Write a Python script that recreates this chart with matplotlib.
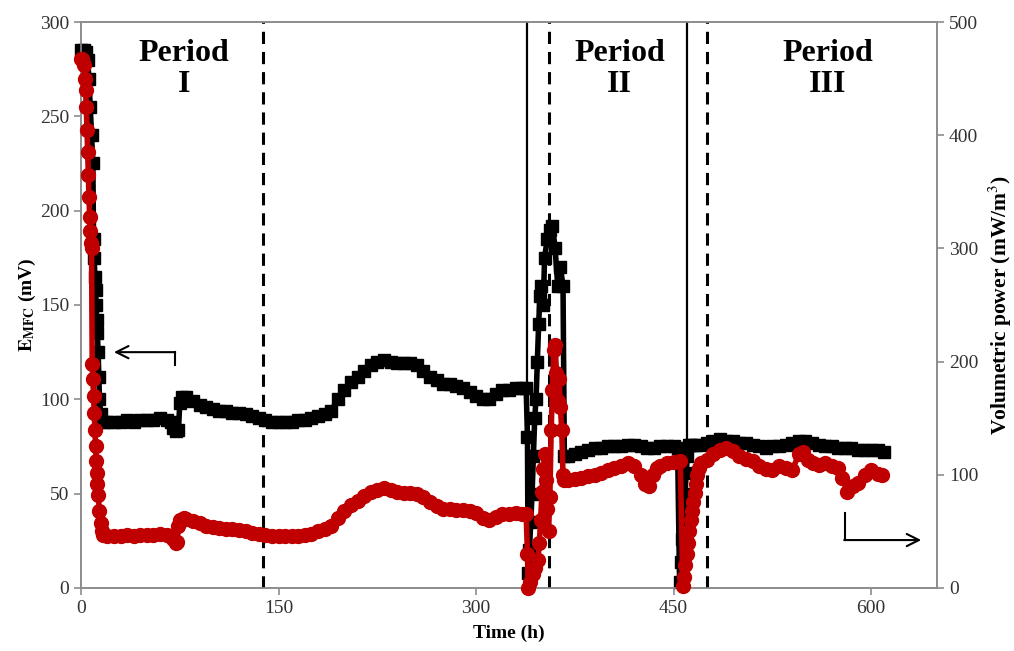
import matplotlib.pyplot as plt

# E_MFC (mV), black squares, left axis
t_e = [0, 2, 4, 5, 6, 7, 8, 9, 9.5, 10, 10.5, 11, 11.5, 12, 12.5, 13, 13.5, 14, 15, 17,
       20, 25, 30, 35, 40, 45, 50, 55, 60, 65, 68, 70, 72, 74, 75, 77, 80, 85, 90, 95,
       100, 105, 110, 115, 120, 125, 130, 135, 140, 145, 150, 155, 160, 165, 170, 175,
       180, 185, 190, 195, 200, 205, 210, 215, 220, 225, 230, 235, 240, 245, 250, 255,
       260, 265, 270, 275, 280, 285, 290, 295, 300, 305, 310, 315, 320, 325, 330, 335,
       338, 339, 339.5, 340.5, 341.5, 342.5, 343.5, 344.5, 345.5, 346.5, 347.5, 348.5,
       349.5, 351, 352, 354, 356, 358, 360, 362, 364, 366,
       367, 370, 375, 380, 385, 390, 395, 400, 405, 410, 415, 420, 425, 430, 435, 440,
       445, 450, 453, 454.5, 455.5, 456.5, 457.5, 458.5, 459.5, 460.5, 461.5, 463, 466,
       470, 475, 480, 485, 490, 495, 500, 505, 510, 515, 520, 525, 530, 535, 540, 545,
       550, 555, 560, 565, 570, 575, 580, 585, 590, 595, 600, 605, 610]
e_mfc = [285, 285, 284, 280, 270, 255, 240, 225, 185, 175, 165, 158, 150, 142, 135, 125, 112, 100, 92, 88,
         88, 88, 88, 89, 88, 89, 89, 89, 90, 89, 88, 85, 83, 84, 98, 101, 101, 99, 97, 96,
         95, 94, 94, 93, 93, 92, 91, 90, 89, 88, 88, 88, 88, 89, 89, 90,
         91, 92, 94, 100, 105, 109, 112, 115, 118, 120, 121, 120, 119, 119, 119, 118,
         115, 112, 110, 108, 108, 107, 106, 104, 102, 100, 100, 103, 105, 105, 106, 106,
         106, 80, 8, 20, 35, 50, 70, 90, 100, 120, 140, 155,
         160, 150, 175, 185, 190, 192, 180, 160, 170, 160,
         70, 70, 71, 72, 73, 74, 74, 75, 75, 75, 76, 76, 75, 74, 74, 75,
         75, 75, 74, 3, 14, 26, 38, 50, 61, 70, 76, 76, 76,
         76, 77, 78, 79, 78, 78, 77, 77, 76, 75, 74, 75, 75, 76, 77, 78,
         78, 77, 76, 75, 75, 74, 74, 74, 73, 73, 73, 73, 72]

# Volumetric power (mW/m3), red circles, right axis
t_p = [0, 1, 2, 3, 3.5, 4, 4.5, 5, 5.5, 6, 6.5, 7, 7.5, 8, 8.5, 9, 9.5,
       10, 10.5, 11, 11.5, 12, 12.5, 13, 14, 15, 16, 17,
       20, 25, 30, 35, 40, 45, 50, 55, 60, 65, 68, 70, 72, 73, 74, 75, 78, 80, 85, 90, 95,
       100, 105, 110, 115, 120, 125, 130, 135, 140, 145, 150, 155, 160, 165, 170, 175,
       180, 185, 190, 195, 200, 205, 210, 215, 220, 225, 230, 235, 240, 245, 250, 255,
       260, 265, 270, 275, 280, 285, 290, 295, 300, 305, 310, 315, 320, 325, 330, 335,
       338, 339, 339.5, 341, 343, 345, 347, 348, 349, 350, 351, 352, 353, 354, 355, 356,
       357, 358, 359, 360, 361, 362, 363, 364, 365, 366,
       367, 370, 375, 380, 385, 390, 395, 400, 405, 410, 415, 420, 425, 428, 431, 434,
       437, 440, 445, 450, 455, 457, 458, 459, 460, 461, 462, 463, 464, 465, 466, 467,
       468, 469, 471, 475, 480, 485, 490, 495, 500, 505, 510, 515, 520, 525, 530, 535,
       540, 545, 548, 552, 556, 560, 565, 570, 575, 578, 582, 586, 590, 595, 600, 605, 608]
power = [467, 467, 462, 450, 440, 425, 405, 385, 365, 345, 328, 315, 305, 300, 198, 185, 170,
         155, 140, 125, 112, 102, 92, 82, 68, 57, 50, 47,
         46, 46, 46, 47, 46, 47, 47, 47, 48, 47, 46, 43, 40, 41, 55, 60, 62, 61, 59, 57, 55,
         54, 53, 52, 52, 51, 50, 49, 48, 47, 46, 46, 46, 46, 46, 47, 48,
         50, 52, 55, 62, 68, 73, 77, 81, 85, 87, 88, 87, 85, 84, 84, 83,
         80, 76, 72, 70, 70, 69, 69, 68, 66, 62, 60, 63, 65, 65, 66, 65,
         65, 30, 0, 5, 12, 18, 25, 40, 60, 85, 105, 118, 95, 70, 50, 80,
         140, 175, 210, 215, 190, 165, 185, 160, 140, 100,
         95, 95, 96, 97, 99, 100, 102, 104, 106, 108, 110, 108, 100, 92, 90, 100,
         106, 108, 110, 111, 112, 2, 10, 20, 30, 40, 50, 60, 68, 76, 84, 92,
         100, 106, 110, 113, 118, 122, 124, 121, 117, 114, 112, 108, 105, 104, 108, 106,
         104, 118, 120, 113, 110, 109, 110, 108, 106, 97, 85, 90, 93, 100, 104, 101, 100]

dashed_at = [138, 355, 475]
solid_at = [339, 460]
periods = ["Period\nI", "Period\nII", "Period\nIII"]
period_x = [78, 409, 567]

serif = ["Liberation Serif", "DejaVu Serif"]
plt.rcParams["font.family"] = serif
plt.rcParams["mathtext.fontset"] = "stix"
grey = "#8c8c8c"

fig = plt.figure(figsize=(10.14, 6.51), dpi=100)
ax = fig.add_axes([0.0799, 0.0968, 0.8442, 0.8694])
ax2 = ax.twinx()

ax.plot(t_e, e_mfc, color="black", marker="s", markersize=9, lw=4,
        clip_on=False, zorder=3)
ax2.plot(t_p, power, color="#c00000", marker="o", markersize=10, lw=4,
         clip_on=False, zorder=3)

for x in dashed_at:
    ax.axvline(x, color="black", lw=2.2, dashes=(4, 2.6), zorder=4)
for x in solid_at:
    ax.axvline(x, color="black", lw=1.6, zorder=4)

for label, x in zip(periods, period_x):
    ax.text(x, 291, label, ha="center", va="top", fontsize=23,
            fontweight="bold", linespacing=1.1, zorder=5)

# arrows pointing to each axis
ax.plot([71, 71], [118, 125], color="black", lw=1.5)
ax.annotate("", xy=(25, 125), xytext=(71.5, 125),
            arrowprops=dict(arrowstyle="->", lw=1.5, color="black",
                            mutation_scale=22, shrinkA=0, shrinkB=0))
ax.plot([580, 580], [25.4, 40], color="black", lw=1.5, clip_on=False)
ax.annotate("", xy=(638, 25.4), xytext=(579.5, 25.4),
            arrowprops=dict(arrowstyle="->", lw=1.5, color="black",
                            mutation_scale=22, shrinkA=0, shrinkB=0))

ax.set_xlim(0, 650)
ax.set_ylim(0, 300)
ax2.set_ylim(0, 500)
ax.set_xticks([0, 150, 300, 450, 600])
ax.set_yticks(range(0, 301, 50))
ax2.set_yticks(range(0, 501, 100))

for a in (ax, ax2):
    for s in a.spines.values():
        s.set_color(grey)
        s.set_linewidth(1.2)
    a.tick_params(direction="out", length=5, width=1.2, color=grey,
                  labelsize=14, labelcolor="#333333")

ax.set_xlabel("Time (h)", fontsize=14, fontweight="bold", labelpad=6)
ax.set_ylabel(r"$\mathbf{E_{MFC}}$ (mV)", fontsize=14, fontweight="bold", labelpad=1)
ax2.set_ylabel(r"Volumetric power (mW/m$^3$)", fontsize=15.5,
               fontweight="bold", labelpad=6)

fig.savefig("out.png", dpi=100)
